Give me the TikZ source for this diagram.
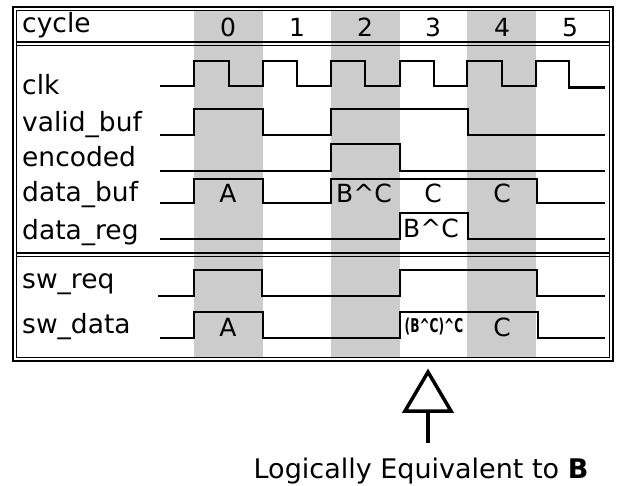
\documentclass[tikz,border=0pt]{standalone}
\usepackage{fontspec}
\setmainfont{DejaVu Sans}
\begin{document}
\begin{tikzpicture}[x=1pt,y=-1pt,
  lbl/.style={anchor=base west,inner sep=0pt,font=\fontsize{26.5}{30}\selectfont},
  num/.style={anchor=base,inner sep=0pt,font=\fontsize{25}{30}\selectfont},
  val/.style={anchor=base,inner sep=0pt,font=\fontsize{25}{30}\selectfont},
  tiny/.style={anchor=base,inner sep=0pt,font=\fontsize{19}{22}\selectfont\bfseries},
  wave/.style={line width=2.5pt,line join=miter},
  frame/.style={line width=1.4pt},
  shade/.style={fill=black!20,draw=none}]
\useasboundingbox (0,0) rectangle (621,486);
% shaded even cycles
\fill[shade] (194,10) rectangle (263,357);
\fill[shade] (331,10) rectangle (400,357);
\fill[shade] (467,10) rectangle (536,357);
% double frame and separators
\draw[frame] (13,7) rectangle (613,361);
\draw[frame] (16.5,10.5) rectangle (609.5,357.5);
\draw[frame] (16.5,42) -- (609.5,42);
\draw[frame] (16.5,45.5) -- (609.5,45.5);
\draw[frame] (16.5,253) -- (609.5,253);
\draw[frame] (16.5,256.5) -- (609.5,256.5);
% header
\node[lbl] (hcycle) at (22,33) {cycle};
\foreach \n/\x in {0/228,1/297,2/365,3/433,4/502,5/570}
  \node[num] (c\n) at (\x,37) {\n};
% signal names
\node[lbl] (nclk) at (22,95) {clk};
\node[lbl] (nvalid) at (22,132) {valid\_buf};
\node[lbl] (nenc) at (22,166.5) {encoded};
\node[lbl] (ndbuf) at (22,202) {data\_buf};
\node[lbl] (ndreg) at (22,240) {data\_reg};
\node[lbl] (nreq) at (22,289) {sw\_req};
\node[lbl] (ndata) at (22,334) {sw\_data};
% waveforms
\draw[wave] (160,86) -- (194,86) -- (194,61) -- (229,61) -- (229,86) -- (263,86)
  -- (263,61) -- (297,61) -- (297,86) -- (331,86) -- (331,61) -- (365,61) -- (365,86)
  -- (400,86) -- (400,61) -- (434,61) -- (434,86) -- (467,86) -- (467,61) -- (502,61)
  -- (502,86) -- (536,86) -- (536,61) -- (569,61) -- (569,87.5) -- (605,87.5);
\draw[wave] (160,135) -- (194,135) -- (194,109) -- (263,109) -- (263,135) -- (331,135)
  -- (331,109) -- (468,109) -- (468,135) -- (605,135);
\draw[wave] (160,171) -- (331,171) -- (331,144) -- (400,144) -- (400,171) -- (605,171);
\draw[wave] (160,203) -- (194,203) -- (194,179) -- (263,179) -- (263,203) -- (331,203)
  -- (331,179) -- (537,179) -- (537,203) -- (605,203);
\draw[wave] (160,239) -- (400,239) -- (400,213) -- (468,213) -- (468,239) -- (605,239);
\draw[wave] (158,296) -- (194,296) -- (194,270) -- (262,270) -- (262,296) -- (400,296)
  -- (400,270) -- (537,270) -- (537,296) -- (605,296);
\draw[wave] (160,338) -- (194,338) -- (194,312) -- (263,312) -- (263,338) -- (400,338)
  -- (400,312) -- (538,312) -- (538,338) -- (605,338);
% data values
\node[val] (va) at (228,203) {A};
\node[val] (vbc) at (364,203) {B\^{}C};
\node[val] (vc3) at (433,203) {C};
\node[val] (vc4) at (502,203) {C};
\node[val] (vreg) at (431,238) {B\^{}C};
\node[val] (vsa) at (228,336) {A};
\node[tiny] (vsbc) at (434,332) {\scalebox{0.64}[1]{(B\^{}C)\^{}C}};
\node[val] (vsc) at (502,336) {C};
% note arrow
\node[anchor=base,inner sep=0pt,font=\fontsize{27}{32}\selectfont] (note) at (421,478)
  {Logically Equivalent to \textbf{B}};
\coordinate (tip) at (428,372);
\coordinate (stem) at (428,443);
\draw[line width=3.5pt,line join=miter,fill=white] (tip) -- (451,411) -- (405,411) -- cycle;
\draw[line width=3.5pt] (428,411) -- (stem);
\end{tikzpicture}
\end{document}
